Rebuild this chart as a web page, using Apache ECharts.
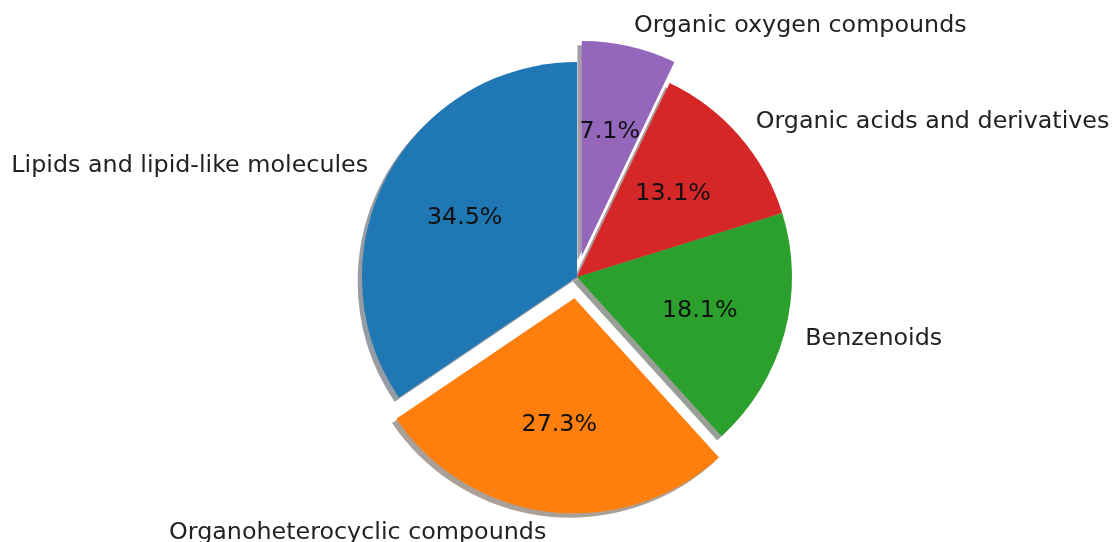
<!DOCTYPE html>
<html>
<head>
<meta charset="utf-8">
<script src="https://cdn.jsdelivr.net/npm/echarts@6/dist/echarts.min.js"></script>
<style>
  html, body { margin: 0; padding: 0; background: #ffffff; }
  #chart { width: 1113px; height: 542px; }
</style>
</head>
<body>
<div id="chart"></div>
<script>
// Compound classes and their share (%) of annotated metabolites
const categories = [
  'Lipids and lipid-like molecules',
  'Organoheterocyclic compounds',
  'Benzenoids',
  'Organic acids and derivatives',
  'Organic oxygen compounds'
];
const shares = [34.5, 27.3, 18.1, 13.1, 7.1];
const pulledOut = [false, true, false, false, true];

const colors = ['#1f77b4', '#ff7f0e', '#2ca02c', '#d62728', '#9467bd'];
const shadowColors = ['#959ca4', '#aaa097', '#979f97', '#b0999a', '#a39ca8'];

const CX = 577, CY = 277, R = 215;
const OFFSET = R * 0.1;          // pull-out distance of highlighted wedges
const SHADOW = R * 0.02;         // drop shadow shift (left / down)
const FONT = 'DejaVu Sans, sans-serif';
const FS = 23.8;

function items(colorList) {
  return categories.map((name, i) => ({
    name: name,
    value: shares[i],
    selected: pulledOut[i],
    itemStyle: { color: colorList ? colorList[i] : 'rgba(0,0,0,0)' }
  }));
}

const common = {
  type: 'pie',
  startAngle: 90,
  clockwise: false,
  selectedMode: 'multiple',
  selectedOffset: OFFSET,
  silent: true,
  animation: false,
  avoidLabelOverlap: false,
  emphasis: { disabled: true },
  itemStyle: { borderWidth: 0 }
};

const option = {
  backgroundColor: '#ffffff',
  animation: false,
  series: [
    // drop shadow underneath all wedges
    Object.assign({}, common, {
      name: 'shadow',
      z: 1,
      center: [CX - SHADOW, CY + SHADOW],
      radius: [0, R],
      label: { show: false },
      labelLine: { show: false },
      data: items(shadowColors)
    }),
    // wedges with category labels outside
    Object.assign({}, common, {
      name: 'classes',
      z: 2,
      center: [CX, CY],
      radius: [0, R],
      label: {
        show: true,
        position: 'outside',
        alignTo: 'none',
        formatter: '{b}',
        fontFamily: FONT,
        fontSize: FS,
        color: '#222222',
        distanceToLabelLine: 0
      },
      labelLine: { show: false, length: OFFSET, length2: 0 },
      data: items(colors)
    }),
    // transparent ring whose mid-radius carries the percentage labels
    Object.assign({}, common, {
      name: 'percent',
      z: 3,
      center: [CX, CY],
      radius: [R * 0.155, R],
      label: {
        show: true,
        position: 'inside',
        formatter: function (p) { return shares[p.dataIndex].toFixed(1) + '%'; },
        fontFamily: FONT,
        fontSize: FS,
        color: '#111111'
      },
      labelLine: { show: false },
      data: items(null)
    })
  ]
};

const chart = echarts.init(document.getElementById('chart'), null, { renderer: 'canvas' });
chart.setOption(option);
</script>
</body>
</html>
